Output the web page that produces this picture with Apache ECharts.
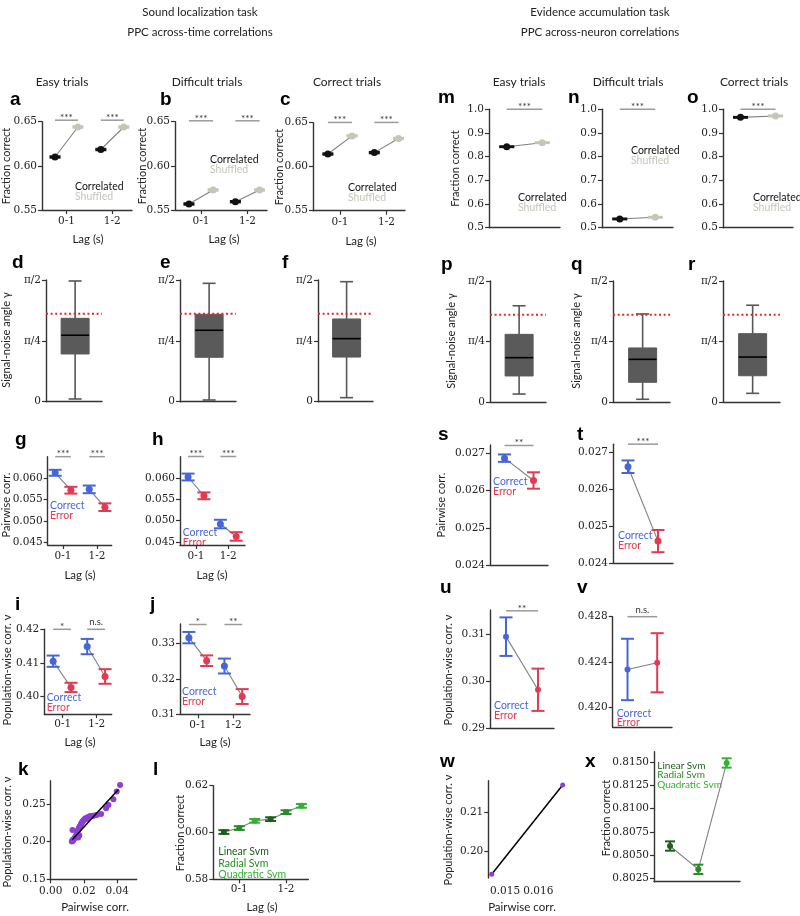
<!DOCTYPE html>
<html><head><meta charset="utf-8">
<script src="https://cdn.jsdelivr.net/npm/echarts@6/dist/echarts.min.js"></script>
<style>html,body{margin:0;padding:0;background:#fff}#c{width:800px;height:916px}</style>
</head><body><div id="c"></div>
<script>
// ================= DATA =================
const lagLabels = ['0-1', '1-2'];
const svmNames = ['Linear Svm', 'Radial Svm', 'Quadratic Svm'];
// a, b, c : fraction correct (Sound localization, across-time)
const aCorrelated = [0.6100, 0.6185];
const aShuffled = [0.6440, 0.6440];
const aCorrelatedErr = [0.0008, 0.0008];
const aShuffledErr = [0.0008, 0.0008];
const aSig = ['***', '***'];
const bCorrelated = [0.5568, 0.5594];
const bShuffled = [0.5727, 0.5727];
const bCorrelatedErr = [0.0008, 0.0008];
const bShuffledErr = [0.0008, 0.0008];
const bSig = ['***', '***'];
const cCorrelated = [0.6144, 0.6160];
const cShuffled = [0.6350, 0.6320];
const cCorrelatedErr = [0.0008, 0.0008];
const cShuffledErr = [0.0008, 0.0008];
const cSig = ['***', '***'];
// m, n, o : fraction correct (Evidence accumulation, across-neuron)
const mCorrelated = [0.842];
const mShuffled = [0.859];
const nCorrelated = [0.537];
const nShuffled = [0.544];
const oCorrelated = [0.966];
const oShuffled = [0.972];
const mnoErr = [0.002];
const mSig = ['***'];
const nSig = ['***'];
const oSig = ['***'];
// d, e, f, p, q, r : signal-noise angle boxes [min, Q1, median, Q3, max] (rad)
const dBox = [0.035, 0.616, 0.858, 1.076, 1.558];
const eBox = [0.022, 0.573, 0.922, 1.128, 1.528];
const fBox = [0.052, 0.576, 0.814, 1.068, 1.549];
const pBox = [0.107, 0.341, 0.578, 0.880, 1.250];
const qBox = [0.039, 0.259, 0.556, 0.704, 1.144];
const rBox = [0.116, 0.344, 0.586, 0.889, 1.257];
const refAngle = [1.134];
const angleTicks = [0, Math.PI / 4, Math.PI / 2];
const angleTickLabels = ['0', 'π/4', 'π/2'];
// g, h : pairwise corr.
const gCorrect = [0.0613, 0.0574];
const gError = [0.0572, 0.0532];
const gCorrectErr = [0.0007, 0.0009];
const gErrorErr = [0.0008, 0.0009];
const gSig = ['***', '***'];
const hCorrect = [0.0602, 0.0492];
const hError = [0.0558, 0.0463];
const hCorrectErr = [0.0008, 0.0010];
const hErrorErr = [0.0008, 0.0010];
const hSig = ['***', '***'];
// s, t
const sCorrect = [0.02687];
const sError = [0.02627];
const sCorrectErr = [0.00010];
const sErrorErr = [0.00022];
const sSig = ['**'];
const tCorrect = [0.02661];
const tError = [0.02460];
const tCorrectErr = [0.00017];
const tErrorErr = [0.00030];
const tSig = ['***'];
// i, j : population-wise corr.
const iCorrect = [0.4105, 0.4149];
const iError = [0.4026, 0.4059];
const iCorrectErr = [0.0017, 0.0023];
const iErrorErr = [0.0014, 0.0022];
const iSig = ['*', 'n.s.'];
const jCorrect = [0.3316, 0.3236];
const jError = [0.3251, 0.3150];
const jCorrectErr = [0.0016, 0.0021];
const jErrorErr = [0.0015, 0.0021];
const jSig = ['*', '**'];
// u, v
const uCorrect = [0.3095];
const uError = [0.2982];
const uCorrectErr = [0.0041];
const uErrorErr = [0.0045];
const uSig = ['**'];
const vCorrect = [0.42336];
const vError = [0.42395];
const vCorrectErr = [0.0027];
const vErrorErr = [0.0026];
const vSig = ['n.s.'];
// k : population-wise vs pairwise
const kPairwise = [0.0127,0.0131,0.0134,0.0138,0.0142,0.0146,0.0150,0.0153,0.0157,0.0160,0.0163,0.0166,0.0169,0.0172,0.0175,0.0178,0.0181,0.0184,0.0187,0.0190,0.0194,0.0198,0.0202,0.0206,0.0210,0.0215,0.0220,0.0226,0.0232,0.0240,0.0250,0.0262,0.0277,0.0303,0.0333,0.0347,0.0377,0.0397,0.0417,0.0131,0.0165,0.0172];
const kPopulation = [0.2003,0.2021,0.2012,0.2030,0.2040,0.2050,0.2065,0.2080,0.2100,0.2120,0.2140,0.2160,0.2175,0.2190,0.2200,0.2210,0.2225,0.2240,0.2250,0.2262,0.2275,0.2285,0.2295,0.2305,0.2310,0.2300,0.2320,0.2325,0.2335,0.2340,0.2338,0.2347,0.2354,0.2367,0.2443,0.2487,0.2562,0.2664,0.2753,0.2154,0.2055,0.2080];
const kFitPairwise = [0.0131, 0.0407];
const kFitPopulation = [0.2027, 0.2691];
// w
const wPairwise = [0.01460, 0.01673];
const wPopulation = [0.1942, 0.2171];
// l : SVM fraction correct per lag
const lLinear = [0.6002, 0.6057];
const lRadial = [0.6019, 0.6087];
const lQuadratic = [0.6050, 0.6114];
const lErr = [0.0008, 0.0008];
// x : SVM fraction correct
const xSvm = [0.80597, 0.80347, 0.81489];
const xSvmErr = [0.0005, 0.0005, 0.0005];

// ================= STYLE =================
const AX = '#333';
const SERIF = 'DejaVu Serif', SANS = 'Lato';
const BLACK = '#111', SHUF = '#c4c6b8', BLUE = '#4766d6', RED = '#e23a52', PURPLE = '#8b3fd6', GRAY = '#808080';
const GREENS = ['#1e5e1e', '#268c26', '#34b034'];
const tickFont = { fontFamily: SERIF, fontSize: 10.5, color: '#222' };
const grids = [], xAxis = [], yAxis = [], series = [], graphic = [];
const fix = d => v => v.toFixed(d);
const lagFmt = v => lagLabels[Math.round(v)];

function panel(p) {
  const gi = grids.length;
  grids.push({ left: p.x0, top: p.y0, width: p.x1 - p.x0, height: p.y1 - p.y0 });
  const xt = p.xTicks || [];
  xAxis.push({ type: 'value', gridIndex: gi, min: p.xmin, max: p.xmax,
    axisLine: { show: p.xLine !== false, onZero: false, lineStyle: { color: AX, width: 1.4 } },
    axisTick: { show: xt.length > 0 && p.xTickShow !== false, customValues: xt, length: 4, lineStyle: { color: AX, width: 1.2 } },
    axisLabel: { show: xt.length > 0, customValues: xt, formatter: p.xFmt, margin: p.xMargin || 6, ...tickFont },
    splitLine: { show: false } });
  yAxis.push({ type: 'value', gridIndex: gi, min: p.ymin, max: p.ymax,
    axisLine: { show: true, onZero: false, lineStyle: { color: AX, width: 1.4 } },
    axisTick: { show: true, customValues: p.yTicks, length: 4, lineStyle: { color: AX, width: 1.2 } },
    axisLabel: { show: true, customValues: p.yTicks, formatter: p.yFmt, margin: 5, ...tickFont },
    splitLine: { show: false } });
  return gi;
}

function errSeries(gi, xs, vals, errs, colorOf, cap, lw) {
  return { type: 'custom', xAxisIndex: gi, yAxisIndex: gi, z: 4, silent: true,
    data: vals.map((v, k) => [xs[k], v, errs[k]]), encode: { x: 0, y: 1 },
    renderItem: (params, api) => {
      const x = api.value(0), y = api.value(1), e = api.value(2);
      const t = api.coord([x, y + e]), b = api.coord([x, y - e]);
      const st = { stroke: colorOf(params.dataIndex), lineWidth: lw || 1.8 };
      return { type: 'group', children: [
        { type: 'line', shape: { x1: t[0], y1: t[1], x2: b[0], y2: b[1] }, style: st },
        { type: 'line', shape: { x1: t[0] - cap / 2, y1: t[1], x2: t[0] + cap / 2, y2: t[1] }, style: st },
        { type: 'line', shape: { x1: b[0] - cap / 2, y1: b[1], x2: b[0] + cap / 2, y2: b[1] }, style: st }] };
    } };
}

function sigSeries(gi, xs1, xs2, y, labels) {
  return { type: 'custom', xAxisIndex: gi, yAxisIndex: gi, z: 3, silent: true, clip: false,
    data: labels.map((_, k) => [xs1[k], xs2[k], y]), encode: { x: [0, 1], y: 2 },
    renderItem: (params, api) => {
      const a = api.coord([api.value(0), api.value(2)]), b = api.coord([api.value(1), api.value(2)]);
      const lab = labels[params.dataIndex];
      const ns = lab === 'n.s.';
      return { type: 'group', children: [
        { type: 'line', shape: { x1: a[0], y1: a[1], x2: b[0], y2: b[1] }, style: { stroke: '#9a9a9a', lineWidth: 1.5 } },
        { type: 'text', style: { text: lab, x: (a[0] + b[0]) / 2, y: a[1] - (ns ? 7 : 2.5), align: 'center', verticalAlign: 'middle', fill: '#333', fontFamily: SANS, fontSize: ns ? 9.5 : 10 } }] };
    } };
}

function pairPanel(gi, xs1, xs2, v1, v2, e1, e2, c1, c2, cap, ms, sigY, sig) {
  for (let k = 0; k < v1.length; k++) {
    series.push({ type: 'line', xAxisIndex: gi, yAxisIndex: gi, data: [[xs1[k], v1[k]], [xs2[k], v2[k]]], symbol: 'none', silent: true, z: 2, lineStyle: { color: GRAY, width: 1.1 } });
  }
  series.push(errSeries(gi, xs1, v1, e1, () => c1, cap, 2));
  series.push(errSeries(gi, xs2, v2, e2, () => c2, cap, 2));
  series.push({ type: 'scatter', xAxisIndex: gi, yAxisIndex: gi, data: v1.map((v, k) => [xs1[k], v]), symbolSize: ms, itemStyle: { color: c1, opacity: 1 }, z: 5, silent: true });
  series.push({ type: 'scatter', xAxisIndex: gi, yAxisIndex: gi, data: v2.map((v, k) => [xs2[k], v]), symbolSize: ms, itemStyle: { color: c2, opacity: 1 }, z: 5, silent: true });
  series.push(sigSeries(gi, xs1, xs2, sigY, sig));
}

function boxPanel(gi, box) {
  series.push({ type: 'custom', xAxisIndex: gi, yAxisIndex: gi, z: 3, silent: true,
    data: [[0.52, ...box]], encode: { x: 0, y: [1, 2, 3, 4, 5] },
    renderItem: (params, api) => {
      const x = api.value(0);
      const lo = api.coord([x, api.value(1)]), q1 = api.coord([x, api.value(2)]), md = api.coord([x, api.value(3)]), q3 = api.coord([x, api.value(4)]), hi = api.coord([x, api.value(5)]);
      const bw = 28, cw = 13, ws = { stroke: '#575757', lineWidth: 1.6 };
      return { type: 'group', children: [
        { type: 'line', shape: { x1: hi[0], y1: hi[1], x2: hi[0], y2: q3[1] }, style: ws },
        { type: 'line', shape: { x1: lo[0], y1: q1[1], x2: lo[0], y2: lo[1] }, style: ws },
        { type: 'line', shape: { x1: hi[0] - cw / 2, y1: hi[1], x2: hi[0] + cw / 2, y2: hi[1] }, style: ws },
        { type: 'line', shape: { x1: lo[0] - cw / 2, y1: lo[1], x2: lo[0] + cw / 2, y2: lo[1] }, style: ws },
        { type: 'rect', shape: { x: q3[0] - bw / 2, y: q3[1], width: bw, height: q1[1] - q3[1] }, style: { fill: '#5a5a5a', stroke: '#5a5a5a', lineWidth: 1 } },
        { type: 'line', shape: { x1: md[0] - bw / 2, y1: md[1], x2: md[0] + bw / 2, y2: md[1] }, style: { stroke: '#000', lineWidth: 1.6 } }] };
    } });
  series.push({ type: 'line', xAxisIndex: gi, yAxisIndex: gi, z: 4, silent: true, symbol: 'none',
    data: [[0, refAngle[0]], [1, refAngle[0]]], lineStyle: { color: '#e8262a', width: 2, type: [2, 2.6] } });
}

function svmPoints(gi, xs, vals, errs, colors, cap, ms) {
  series.push({ type: 'line', xAxisIndex: gi, yAxisIndex: gi, data: vals.map((v, k) => [xs[k], v]), symbol: 'none', silent: true, z: 2, lineStyle: { color: GRAY, width: 1.1 } });
  series.push(errSeries(gi, xs, vals, errs, k => colors[k], cap, 2));
  series.push({ type: 'scatter', xAxisIndex: gi, yAxisIndex: gi, z: 5, silent: true, symbolSize: ms,
    data: vals.map((v, k) => ({ value: [xs[k], v], itemStyle: { color: colors[k], opacity: 1 } })) });
}

// ---------- text helpers ----------
function txt(x, y, text, color, size) {
  graphic.push({ type: 'text', x: x, y: y, silent: true,
    style: { text: text, fill: color, fontFamily: SANS, fontSize: size, align: 'left', verticalAlign: 'middle' } });
}
function ctxt(x, y, text, size) { graphic.push({ type: 'text', x, y, silent: true, style: { text, fill: '#222', fontFamily: SANS, fontSize: size, align: 'center', verticalAlign: 'middle' } }); }
function vtxt(x, y, text) { graphic.push({ type: 'text', x, y, rotation: Math.PI / 2, silent: true, style: { text, fill: '#222', fontFamily: SANS, fontSize: 11, align: 'center', verticalAlign: 'middle' } }); }
function letter(x, y, t) { graphic.push({ type: 'text', x, y, silent: true, style: { text: t, fill: '#000', fontFamily: 'Liberation Sans', fontWeight: 'bold', fontSize: 19, align: 'left', verticalAlign: 'middle' } }); }
function legend2(x, y, l1, c1, l2, c2) { txt(x, y, l1, c1, 10.5); txt(x, y + 9.5, l2, c2, 10.5); }

const lagPos = off => lagLabels.map((_, k) => k + off);
const single1 = [0.25], single2 = [0.75];

// ================= PANELS =================
// ---- a, b, c ----
const fcTicks = [0.55, 0.60, 0.65];
{ const gi = panel({ x0: 42, x1: 132, y0: 121.7, y1: 210, xmin: -0.534, xmax: 1.43, ymin: 0.55, ymax: 0.65, yTicks: fcTicks, yFmt: fix(2), xTicks: [0, 1], xFmt: lagFmt });
  pairPanel(gi, lagPos(-0.25), lagPos(0.25), aCorrelated, aShuffled, aCorrelatedErr, aShuffledErr, BLACK, SHUF, 11, 7, 0.6517, aSig); }
{ const gi = panel({ x0: 175, x1: 267, y0: 121.7, y1: 210, xmin: -0.56, xmax: 1.42, ymin: 0.55, ymax: 0.65, yTicks: fcTicks, yFmt: fix(2), xTicks: [0, 1], xFmt: lagFmt });
  pairPanel(gi, lagPos(-0.26), lagPos(0.26), bCorrelated, bShuffled, bCorrelatedErr, bShuffledErr, BLACK, SHUF, 11, 7, 0.651, bSig); }
{ const gi = panel({ x0: 313, x1: 405, y0: 122.7, y1: 210.7, xmin: -0.58, xmax: 1.40, ymin: 0.55, ymax: 0.65, yTicks: fcTicks, yFmt: fix(2), xTicks: [0, 1], xFmt: lagFmt });
  pairPanel(gi, lagPos(-0.26), lagPos(0.26), cCorrelated, cShuffled, cCorrelatedErr, cShuffledErr, BLACK, SHUF, 11, 7, 0.6503, cSig); }
// ---- m, n, o ----
const fc2Ticks = [0.5, 0.6, 0.7, 0.8, 0.9, 1.0];
[[489, 560, mCorrelated, mShuffled, mSig], [602, 673, nCorrelated, nShuffled, nSig], [723, 793, oCorrelated, oShuffled, oSig]].forEach(([x0, x1, c, s, sg]) => {
  const gi = panel({ x0, x1, y0: 109.3, y1: 227.7, xmin: 0, xmax: 1, ymin: 0.5, ymax: 1.0, yTicks: fc2Ticks, yFmt: fix(1) });
  pairPanel(gi, single1, single2, c, s, mnoErr, mnoErr, BLACK, SHUF, 15, 7, 1.0, sg);
});
// ---- d, e, f, p, q, r ----
const angFmt = v => angleTickLabels[angleTicks.findIndex(t => Math.abs(t - v) < 1e-6)];
[[46, 102, 280, 401.7, dBox], [180, 236, 280, 401.7, eBox], [318, 373, 280, 401.7, fBox],
 [490, 546, 281, 402.3, pBox], [613, 670, 281, 402.3, qBox], [723, 780, 281, 402.3, rBox]].forEach(([x0, x1, y0, y1, box]) => {
  const gi = panel({ x0, x1, y0, y1, xmin: 0, xmax: 1, ymin: 0, ymax: Math.PI / 2, yTicks: angleTicks, yFmt: angFmt });
  boxPanel(gi, box);
});
// ---- g, h ----
const pwTicks = [0.045, 0.050, 0.055, 0.060];
{ const gi = panel({ x0: 47.7, x1: 111.7, y0: 456.7, y1: 545, xmin: -0.45, xmax: 1.43, ymin: 0.0443, ymax: 0.06509, yTicks: pwTicks, yFmt: fix(3), xTicks: [0, 1], xFmt: lagFmt });
  pairPanel(gi, lagPos(-0.23), lagPos(0.23), gCorrect, gError, gCorrectErr, gErrorErr, BLUE, RED, 13, 7, 0.0651, gSig); }
{ const gi = panel({ x0: 180, x1: 245, y0: 456.7, y1: 545, xmin: -0.495, xmax: 1.517, ymin: 0.0443, ymax: 0.06495, yTicks: pwTicks, yFmt: fix(3), xTicks: [0, 1], xFmt: lagFmt });
  pairPanel(gi, lagPos(-0.245), lagPos(0.245), hCorrect, hError, hCorrectErr, hErrorErr, BLUE, RED, 13, 7, 0.0650, hSig); }
// ---- s, t ----
const pw2Ticks = [0.024, 0.025, 0.026, 0.027];
{ const gi = panel({ x0: 490, x1: 548, y0: 445, y1: 565, xmin: 0, xmax: 1, ymin: 0.024, ymax: 0.027223, yTicks: pw2Ticks, yFmt: fix(3) });
  pairPanel(gi, single1, single2, sCorrect, sError, sCorrectErr, sErrorErr, BLUE, RED, 13, 7, 0.02721, sSig); }
{ const gi = panel({ x0: 613, x1: 673, y0: 444.3, y1: 563.3, xmin: 0, xmax: 1, ymin: 0.024, ymax: 0.027216, yTicks: pw2Ticks, yFmt: fix(3) });
  pairPanel(gi, single1, single2, tCorrect, tError, tCorrectErr, tErrorErr, BLUE, RED, 13, 7, 0.02722, tSig); }
// ---- i, j ----
{ const gi = panel({ x0: 44.3, x1: 111.7, y0: 629.3, y1: 714, xmin: -0.54, xmax: 1.44, ymin: 0.3946, ymax: 0.4201, yTicks: [0.40, 0.41, 0.42], yFmt: fix(2), xTicks: [0, 1], xFmt: lagFmt, xMargin: 5 });
  pairPanel(gi, lagPos(-0.28), lagPos(0.245), iCorrect, iError, iCorrectErr, iErrorErr, BLUE, RED, 13, 7, 0.4201, iSig); }
{ const gi = panel({ x0: 180, x1: 250, y0: 624, y1: 714.3, xmin: -0.5, xmax: 1.47, ymin: 0.31, ymax: 0.33544, yTicks: [0.31, 0.32, 0.33], yFmt: fix(2), xTicks: [0, 1], xFmt: lagFmt, xMargin: 5 });
  pairPanel(gi, lagPos(-0.25), lagPos(0.25), jCorrect, jError, jCorrectErr, jErrorErr, BLUE, RED, 13, 7, 0.3353, jSig); }
// ---- u, v ----
{ const gi = panel({ x0: 490, x1: 554, y0: 610, y1: 728.3, xmin: 0, xmax: 1, ymin: 0.29, ymax: 0.31517, yTicks: [0.29, 0.30, 0.31], yFmt: fix(2) });
  pairPanel(gi, single1, single2, uCorrect, uError, uCorrectErr, uErrorErr, BLUE, RED, 13, 6, 0.3150, uSig); }
{ const gi = panel({ x0: 612.7, x1: 672, y0: 616.7, y1: 727, xmin: 0, xmax: 1, ymin: 0.4183, ymax: 0.428, yTicks: [0.420, 0.424, 0.428], yFmt: fix(3) });
  pairPanel(gi, single1, single2, vCorrect, vError, vCorrectErr, vErrorErr, BLUE, RED, 13, 6, 0.428, vSig); }
// ---- k ----
{ const gi = panel({ x0: 50.7, x1: 136.7, y0: 780.7, y1: 879.3, xmin: 0, xmax: 0.0517, ymin: 0.15, ymax: 0.2809, yTicks: [0.15, 0.20, 0.25], yFmt: fix(2), xTicks: [0, 0.02, 0.04], xFmt: fix(2) });
  series.push({ type: 'scatter', xAxisIndex: gi, yAxisIndex: gi, z: 4, silent: true, symbolSize: 6, itemStyle: { color: PURPLE, opacity: 1 }, data: kPairwise.map((v, k) => [v, kPopulation[k]]) });
  series.push({ type: 'line', xAxisIndex: gi, yAxisIndex: gi, z: 5, silent: true, symbol: 'none', lineStyle: { color: '#000', width: 1.5 }, data: kFitPairwise.map((v, k) => [v, kFitPopulation[k]]) }); }
// ---- l ----
{ const gi = panel({ x0: 213.3, x1: 308.3, y0: 785.7, y1: 879.3, xmin: -0.557, xmax: 1.477, ymin: 0.58, ymax: 0.62, yTicks: [0.58, 0.60, 0.62], yFmt: fix(2), xTicks: [0, 1], xFmt: lagFmt, xMargin: 4 });
  const xs = [], vals = [], errs = [], cols = [];
  lagLabels.forEach((_, g) => {
    [lLinear, lRadial, lQuadratic].forEach((arr, s) => { xs.push(g + (s - 1) * 0.33); vals.push(arr[g]); errs.push(lErr[g]); cols.push(GREENS[s]); });
  });
  svmPoints(gi, xs, vals, errs, cols, 11, 6); }
// ---- w ----
{ const gi = panel({ x0: 488.3, x1: 566, y0: 780.7, y1: 878, xmin: 0.014498, xmax: 0.01683, ymin: 0.19326, ymax: 0.2182, yTicks: [0.20, 0.21], yFmt: fix(2), xTicks: [0.015, 0.016], xFmt: fix(3), xLine: false, xTickShow: false, xMargin: 8 });
  series.push({ type: 'line', xAxisIndex: gi, yAxisIndex: gi, z: 4, silent: true, symbol: 'none', lineStyle: { color: '#000', width: 1.5 }, data: wPairwise.map((v, k) => [v, wPopulation[k]]) });
  series.push({ type: 'scatter', xAxisIndex: gi, yAxisIndex: gi, z: 5, silent: true, symbolSize: 5, itemStyle: { color: PURPLE, opacity: 1 }, data: wPairwise.map((v, k) => [v, wPopulation[k]]) }); }
// ---- x ----
{ const gi = panel({ x0: 654, x1: 740, y0: 751.7, y1: 881.7, xmin: -0.565, xmax: 2.47, ymin: 0.80214, ymax: 0.8161, yTicks: [0.8025, 0.8050, 0.8075, 0.8100, 0.8125, 0.8150], yFmt: fix(4) });
  svmPoints(gi, xSvm.map((_, k) => k), xSvm, xSvmErr, GREENS, 10, 6); }

// ================= TEXT =================
ctxt(200, 12, 'Sound localization task', 11.5);
ctxt(200, 32, 'PPC across-time correlations', 11.5);
ctxt(600, 12, 'Evidence accumulation task', 11.5);
ctxt(600, 32, 'PPC across-neuron correlations', 11.5);
ctxt(62, 82, 'Easy trials', 12); ctxt(207, 82, 'Difficult trials', 12); ctxt(347, 82, 'Correct trials', 12);
ctxt(519, 82, 'Easy trials', 12); ctxt(628, 82, 'Difficult trials', 12); ctxt(754, 82, 'Correct trials', 12);

[[10,100,'a'],[160,100,'b'],[280,100,'c'],[438,98,'m'],[568,98,'n'],[687,98,'o'],
 [12,263,'d'],[160,263,'e'],[282,263,'f'],[441,265,'p'],[571,265,'q'],[688,265,'r'],
 [15,440,'g'],[152,440,'h'],[438,435,'s'],[577,435,'t'],
 [15,605,'i'],[150,605,'j'],[440,588,'u'],[577,588,'v'],
 [18,770,'k'],[153,770,'l'],[440,762,'w'],[585,762,'x']].forEach(([x, y, t]) => letter(x, y, t));

// y-axis titles
vtxt(6, 166, 'Fraction correct'); vtxt(142, 166, 'Fraction correct'); vtxt(279, 167, 'Fraction correct');
vtxt(455, 168.5, 'Fraction correct');
vtxt(6, 340, 'Signal-noise angle γ'); vtxt(451, 341, 'Signal-noise angle γ'); vtxt(576, 341, 'Signal-noise angle γ');
vtxt(6, 505, 'Pairwise corr.'); vtxt(441, 505, 'Pairwise corr.');
vtxt(7, 670, 'Population-wise corr. ν'); vtxt(448, 670, 'Population-wise corr. ν');
vtxt(7, 832, 'Population-wise corr. ν'); vtxt(180, 833, 'Fraction correct');
vtxt(448, 830, 'Population-wise corr. ν'); vtxt(606, 818, 'Fraction correct');
// x-axis titles
ctxt(88, 239, 'Lag (s)', 11.5); ctxt(224, 239, 'Lag (s)', 11.5); ctxt(361, 241, 'Lag (s)', 11.5);
ctxt(80, 575, 'Lag (s)', 11.5); ctxt(212, 575, 'Lag (s)', 11.5);
ctxt(80, 742, 'Lag (s)', 11.5); ctxt(215, 742, 'Lag (s)', 11.5);
ctxt(262, 907, 'Lag (s)', 11.5); ctxt(95, 907, 'Pairwise corr.', 11.5); ctxt(522, 907, 'Pairwise corr.', 11.5);
// legends
legend2(75, 187, 'Correlated', '#111', 'Shuffled', SHUF);
legend2(210, 160, 'Correlated', '#111', 'Shuffled', SHUF);
legend2(348, 188, 'Correlated', '#111', 'Shuffled', SHUF);
legend2(518, 198, 'Correlated', '#111', 'Shuffled', SHUF);
legend2(631, 151, 'Correlated', '#111', 'Shuffled', SHUF);
legend2(753, 198, 'Correlated', '#111', 'Shuffled', SHUF);
legend2(50, 506, 'Correct', BLUE, 'Error', RED);
legend2(182.7, 532.7, 'Correct', BLUE, 'Error', RED);
legend2(493, 481.7, 'Correct', BLUE, 'Error', RED);
legend2(618, 536, 'Correct', BLUE, 'Error', RED);
legend2(46.7, 697.7, 'Correct', BLUE, 'Error', RED);
legend2(182, 691.7, 'Correct', BLUE, 'Error', RED);
legend2(494, 705.7, 'Correct', BLUE, 'Error', RED);
legend2(616.7, 713.3, 'Correct', BLUE, 'Error', RED);
svmNames.forEach((n, k) => txt(218.3, 851.7 + k * 11.7, n, GREENS[k], 10.5));
svmNames.forEach((n, k) => txt(657.3, 766 + k * 9.2, n, GREENS[k], 10));

const chart = echarts.init(document.getElementById('c'), null, { renderer: 'canvas' });
chart.setOption({ animation: false, backgroundColor: '#fff', grid: grids, xAxis, yAxis, series, graphic });
</script></body></html>
